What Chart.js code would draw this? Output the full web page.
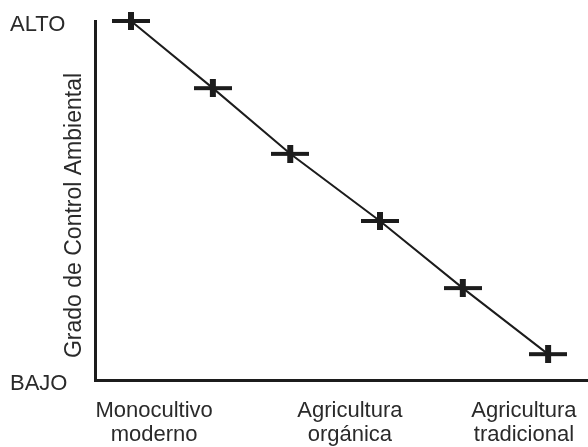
<!DOCTYPE html>
<html>
<head>
<meta charset="utf-8">
<script src="https://cdn.jsdelivr.net/npm/chart.js@4/dist/chart.umd.min.js"></script>
<style>
  body { margin: 0; background: #fff; }
  #wrap { width: 588px; height: 447px; }
</style>
</head>
<body>
<div id="wrap"><canvas id="grado" width="588" height="447"></canvas></div>
<script>
// position of each system along the axis (0-100) and its degree of control (0-100)
const xPositions = [7.3, 23.9, 39.6, 57.8, 74.6, 91.9];
const controlValues = [100, 81.3, 63.0, 44.3, 25.6, 7.2];

// category labels under the x axis and where they sit
const categoryLabels = [
  ['Monocultivo', 'moderno'],
  ['Agricultura', 'orgánica'],
  ['Agricultura', 'tradicional']
];
const categoryPositions = [12, 51.7, 87];

// y axis ends
const yTickValues = [0, 100];
const yTickLabels = { 0: 'BAJO', 100: 'ALTO' };
const yTitle = 'Grado de Control Ambiental';

const ink = '#1c1c1c';
const textColor = '#2a2a2a';
const fontFamily = '"Liberation Sans", Arial, sans-serif';

// the "+" marker: long thin horizontal bar, short thick vertical bar
function makeCross() {
  const c = document.createElement('canvas');
  c.width = 38;
  c.height = 18;
  const g = c.getContext('2d');
  g.fillStyle = ink;
  g.fillRect(0, 7, 38, 4);
  g.fillRect(16, 0, 6, 18);
  return c;
}
const cross = makeCross();

// y title sits between the ALTO/BAJO labels and the axis line
const yTitlePlugin = {
  id: 'yTitle',
  afterDraw(chart) {
    const { ctx, chartArea } = chart;
    ctx.save();
    ctx.translate(75, (chartArea.top + chartArea.bottom) / 2 + 15);
    ctx.rotate(-Math.PI / 2);
    ctx.font = '23px ' + fontFamily;
    ctx.fillStyle = textColor;
    ctx.textAlign = 'center';
    ctx.textBaseline = 'middle';
    ctx.fillText(yTitle, 0, 0);
    ctx.restore();
  }
};

const ctx = document.getElementById('grado').getContext('2d');
const chart = new Chart(ctx, {
  type: 'scatter',
  data: {
    datasets: [{
      data: xPositions.map((x, i) => ({ x: x, y: controlValues[i] })),
      showLine: true,
      borderColor: ink,
      borderWidth: 2,
      pointStyle: cross,
      pointRadius: 10,
      pointHoverRadius: 10,
      clip: false
    }]
  },
  options: {
    responsive: false,
    animation: false,
    events: [],
    layout: { autoPadding: false, padding: { left: 10, top: 21, right: 0, bottom: 0 } },
    plugins: {
      legend: { display: false },
      tooltip: { enabled: false }
    },
    scales: {
      x: {
        type: 'linear',
        min: 0,
        max: 100,
        grid: { display: false, drawTicks: false },
        border: { display: true, color: ink, width: 3 },
        afterBuildTicks: (scale) => {
          scale.ticks = categoryPositions.map(v => ({ value: v }));
        },
        afterFit: (scale) => {
          scale.height = 67;
          scale.paddingLeft = 0;
          scale.paddingRight = 0;
        },
        ticks: {
          autoSkip: false,
          maxRotation: 0,
          padding: 19,
          color: textColor,
          font: { family: fontFamily, size: 22, lineHeight: 1.09 },
          callback: (value, index) => categoryLabels[index]
        }
      },
      y: {
        min: 0,
        max: 100,
        grid: { display: false, drawTicks: false },
        border: { display: true, color: ink, width: 3 },
        afterBuildTicks: (scale) => {
          scale.ticks = yTickValues.map(v => ({ value: v }));
        },
        afterFit: (scale) => {
          scale.width = 85;
          scale.paddingTop = 0;
          scale.paddingBottom = 0;
        },
        ticks: {
          autoSkip: false,
          crossAlign: 'far',
          labelOffset: 4,
          color: textColor,
          font: { family: fontFamily, size: 22 },
          callback: (value) => yTickLabels[value]
        }
      }
    }
  },
  plugins: [yTitlePlugin]
});
</script>
</body>
</html>
